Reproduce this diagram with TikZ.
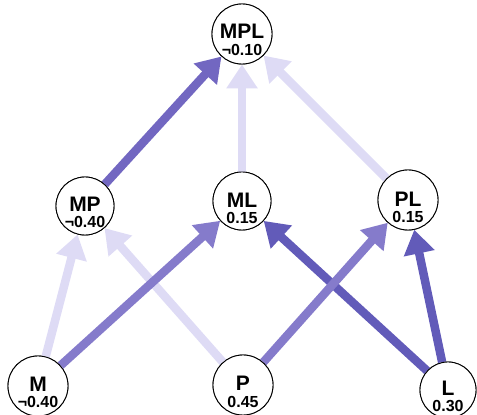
\documentclass[tikz,border=0pt]{standalone}
\usepackage{fontspec}
\setmainfont{Liberation Sans}
\usetikzlibrary{arrows.meta}
\definecolor{edark}{HTML}{625BB9}
\definecolor{emid}{HTML}{857BCB}
\definecolor{emp}{HTML}{7267C1}
\definecolor{elight}{HTML}{DEDBF5}
\tikzset{
  circ/.style={circle,draw=black,line width=0.9pt,fill=white,minimum size=#1,inner sep=0pt},
  nm/.style={font=\fontsize{21}{21}\selectfont\bfseries,inner sep=0pt},
  val/.style={font=\fontsize{16}{16}\selectfont\bfseries,inner sep=0pt},
  edge/.style={line width=8.5pt,-{Triangle[width=30pt 0,length=24pt 0]}},
}
\begin{document}
\begin{tikzpicture}[x=1pt,y=1pt]
\useasboundingbox (0,0) rectangle (477,415);
\node[circ=60pt] (MPL) at (242,381) {};
\node[circ=58pt] (MP) at (85,209) {};
\node[circ=58pt] (ML) at (242,214) {};
\node[circ=60pt] (PL) at (408,215) {};
\node[circ=60pt] (M) at (38,29) {};
\node[circ=60pt] (P) at (243,30) {};
\node[circ=56pt] (L) at (448,25) {};
% edges
\draw[edge,elight] (ML) -- (MPL);
\draw[edge,elight] (PL) -- (MPL);
\draw[edge,elight] (M) -- (MP);
\draw[edge,elight] (P) -- (MP);
\draw[edge,emp] (MP) -- (MPL);
\draw[edge,edark] (L) -- (ML);
\draw[edge,edark] (L) -- (PL);
\draw[edge,emid] (M) -- (ML);
\draw[edge,emid] (P) -- (PL);
% redraw circles on top
\foreach \n/\r in {MPL/60,MP/58,ML/58,PL/60,M/60,P/60,L/56}{
  \node[circ=\r pt] (\n-c) at (\n) {};
}
\node[nm] (MPL-n) at ([yshift=3pt]MPL.center) {MPL};
\node[val] (MPL-v) at ([yshift=-16pt]MPL.center) {¬0.10};
\node[nm] (MP-n) at ([yshift=2pt]MP.center) {MP};
\node[val] (MP-v) at ([yshift=-16pt]MP.center) {¬0.40};
\node[nm] (ML-n) at ([yshift=1pt]ML.center) {ML};
\node[val] (ML-v) at ([yshift=-17pt]ML.center) {0.15};
\node[nm] (PL-n) at ([yshift=1pt]PL.center) {PL};
\node[val] (PL-v) at ([yshift=-17pt]PL.center) {0.15};
\node[nm] (M-n) at ([yshift=2pt]M.center) {M};
\node[val] (M-v) at ([yshift=-16pt]M.center) {¬0.40};
\node[nm] (P-n) at ([yshift=2pt]P.center) {P};
\node[val] (P-v) at ([yshift=-17pt]P.center) {0.45};
\node[nm] (L-n) at ([yshift=2pt]L.center) {L};
\node[val] (L-v) at ([yshift=-16pt]L.center) {0.30};
\end{tikzpicture}
\end{document}
